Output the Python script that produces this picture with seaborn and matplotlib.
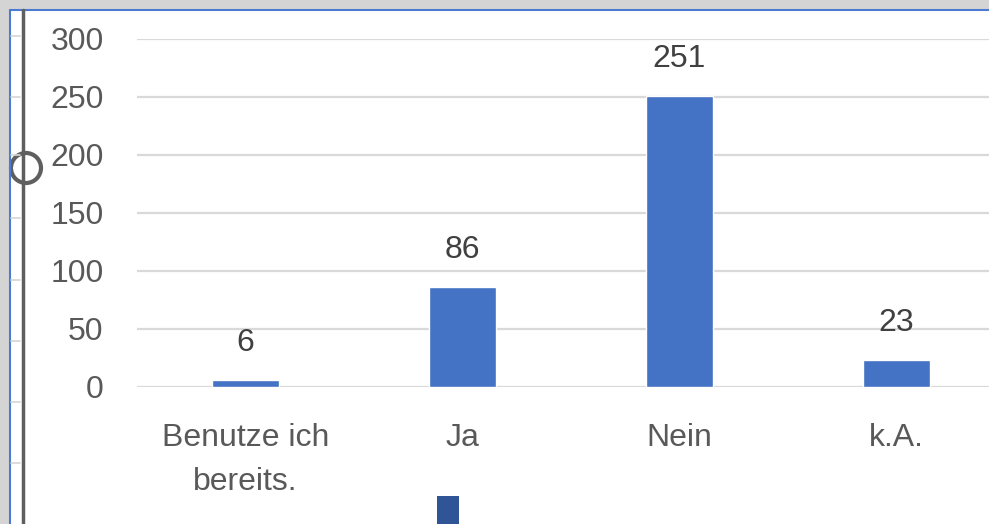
import matplotlib
matplotlib.use("Agg")
import matplotlib.pyplot as plt
import seaborn as sns
from matplotlib.patches import Rectangle, Circle

# data
categories = ["Benutze ich\nbereits.", "Ja", "Nein", "k.A."]
counts = [6, 86, 251, 23]
y_ticks = [0, 50, 100, 150, 200, 250, 300]

sns.set_theme(style="white")
plt.rcParams["font.family"] = ["Liberation Sans", "DejaVu Sans"]

W, H = 989, 524
fig = plt.figure(figsize=(W / 100, H / 100), dpi=100)
fig.patch.set_facecolor("white")

# plot area (extends past the right edge, as in the screenshot)
ax = fig.add_axes([137 / W, 137 / H, 868 / W, 348 / H])
sns.barplot(x=categories, y=counts, width=0.31, color="#4472C4",
            saturation=1, ax=ax, zorder=3)
ax.set_xlim(-0.5, 3.5)
ax.set_ylim(0, 300)
ax.set_yticks(y_ticks)
ax.grid(axis="y", color="#D9D9D9", linewidth=1.6, zorder=0)
ax.grid(axis="x", visible=False)
for s in ax.spines.values():
    s.set_visible(False)
ax.tick_params(axis="y", length=0, pad=24, labelsize=23, labelcolor="#595959")
ax.tick_params(axis="x", length=0, pad=26, labelsize=23, labelcolor="#595959")
for t in ax.get_xticklabels():
    t.set_linespacing(1.6)
ax.set_xlabel("")
ax.set_ylabel("")
ax.bar_label(ax.containers[0], padding=16, fontsize=23, color="#404040")

# screenshot decorations (window frame, selection handle)
ov = fig.add_axes([0, 0, 1, 1], zorder=10)
ov.set_xlim(0, W)
ov.set_ylim(H, 0)
ov.axis("off")
ov.patch.set_alpha(0)
ov.add_patch(Rectangle((0, 0), W, 9, color="#D4D4D4", lw=0))
ov.add_patch(Rectangle((0, 0), 9, H, color="#D4D4D4", lw=0))
ov.plot([9.5, W], [9.5, 9.5], color="#4A7BD0", lw=1.5)
ov.plot([9.5, 9.5], [9.5, H], color="#4A7BD0", lw=1.5)
for yy in [36, 97, 155, 218, 280, 341, 402, 463]:
    ov.plot([11, 20], [yy, yy], color="#D6D6D6", lw=1.2)
ov.plot([23, 23], [10, H], color="#5F5F5F", lw=2.5)
ov.add_patch(Circle((26, 168), 15, facecolor="white", edgecolor="#5F5F5F", lw=3))
ov.add_patch(Rectangle((437, 496), 22, 28, color="#2F5597", lw=0))

fig.savefig("out.png", dpi=100)
